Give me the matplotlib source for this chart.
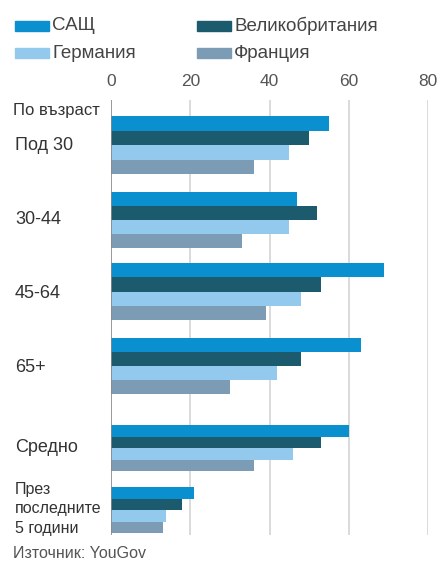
import matplotlib
matplotlib.use('Agg')
import numpy as np
import matplotlib.pyplot as plt

plt.rcParams['font.family'] = ['Liberation Sans', 'DejaVu Sans']

# data
groups = ['Под 30', '30-44', '45-64', '65+', 'Средно', 'През\nпоследните\n5 години']
series = ['САЩ', 'Великобритания', 'Германия', 'Франция']
usa = [55, 47, 69, 63, 60, 21]
uk = [50, 52, 53, 48, 53, 18]
de = [45, 45, 48, 42, 46, 14]
fr = [36, 33, 39, 30, 36, 13]
ticks = [0, 20, 40, 60, 80]

colors = ['#0a8fcf', '#1c5a6d', '#93c9ec', '#7c9cb6']

# layout, in pixels of the 443x565 picture
W, H = 443, 565
group_top = [116, 192, 263, 338, 425, 487]
bar_h = [14.5, 14, 14.3, 14, 11.5, 11.5]
lab_y = [146, 220, 293, 368, 448, 509]

fig = plt.figure(figsize=(W / 100, H / 100), dpi=100)
ax = fig.add_axes([111 / W, 1 - 535 / H, 317 / W, 435 / H])

vals = [usa, uk, de, fr]
for k in range(4):
    ys = [group_top[g] + bar_h[g] * (k + 0.5) for g in range(len(groups))]
    ax.barh(ys, vals[k], height=bar_h, color=colors[k], linewidth=0, zorder=3)

ax.set_xlim(0, 80)
ax.set_ylim(535, 100)
ax.set_yticks([])
ax.set_xticks(ticks)
ax.xaxis.tick_top()
ax.tick_params(axis='x', length=0, pad=8, labelsize=12.5, labelcolor='#555555')
for s in ax.spines.values():
    s.set_visible(False)
for t in ticks[1:]:
    ax.axvline(t, color='#d4d4d4', lw=1.2, zorder=1)
ax.axvline(0, color='#888888', lw=1.2, zorder=4)

def px(x, y):
    return x / W, 1 - y / H

tc = '#333333'
fig.text(*px(13, 111), 'По възраст', fontsize=12, color=tc, va='center')
for g, name in enumerate(groups):
    multi = '\n' in name
    fig.text(*px(15, lab_y[g]), name, fontsize=11.5 if multi else 13, color=tc,
             va='center', linespacing=1.4)
fig.text(*px(13, 554), 'Източник: YouGov', fontsize=11.5, color='#555555', va='center')

# legend
leg_pos = [(15, 26), (197, 26), (15, 53), (197, 53)]
for k, name in enumerate(series):
    x, y = leg_pos[k]
    fig.patches.append(plt.Rectangle(px(x, y + 5), 34 / W, 10 / H,
                                     transform=fig.transFigure, color=colors[k]))
    fig.text(*px(x + 37, y), name, fontsize=13.5, color='#444444', va='center')

fig.savefig('out.png', dpi=100)
